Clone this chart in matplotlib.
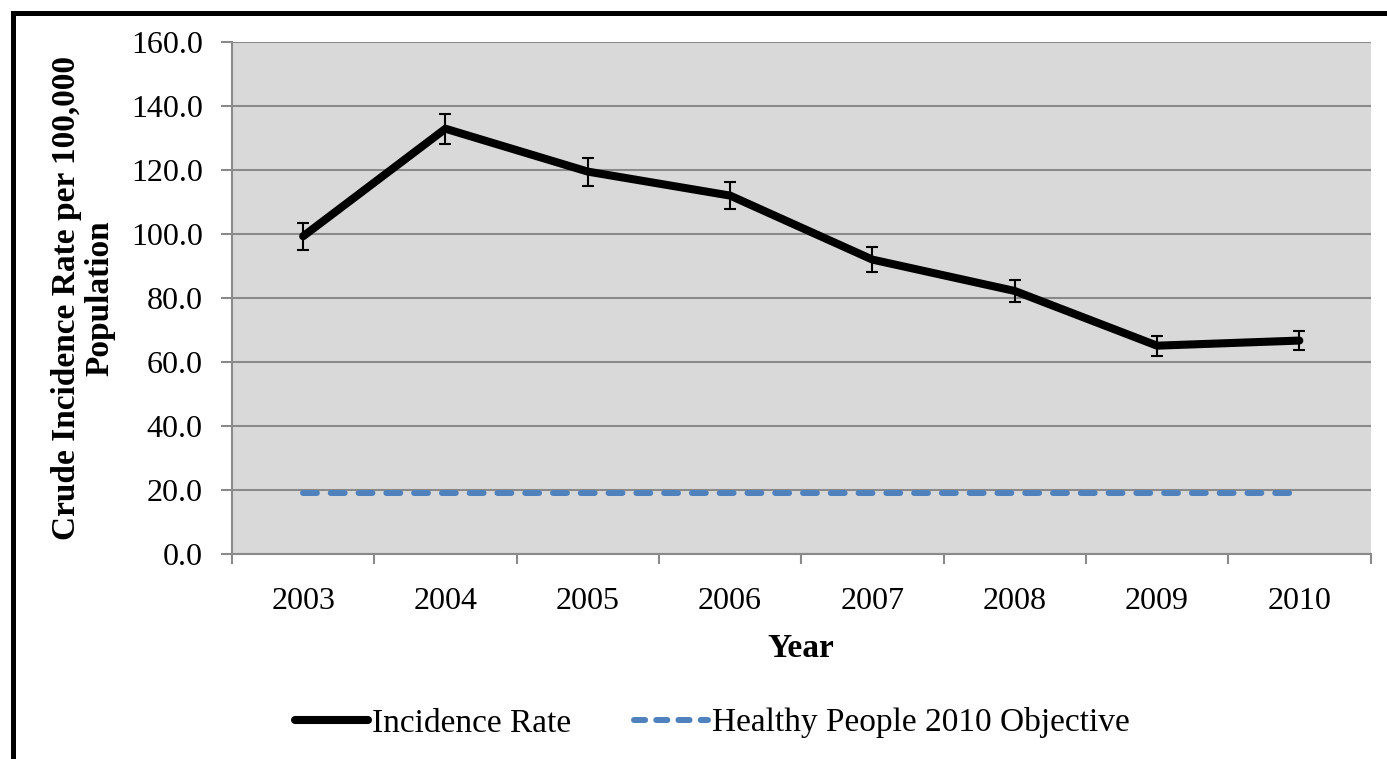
import matplotlib
matplotlib.use("Agg")
import matplotlib.pyplot as plt
from matplotlib.lines import Line2D

years = ["2003", "2004", "2005", "2006", "2007", "2008", "2009", "2010"]
incidence = [99.3, 132.9, 119.5, 112.0, 92.0, 82.2, 65.1, 66.7]
err = [4.2, 4.7, 4.4, 4.2, 3.8, 3.5, 3.1, 3.1]
objective = [19.0] * len(years)
yticks = [0, 20, 40, 60, 80, 100, 120, 140, 160]

plt.rcParams['font.family'] = ['Liberation Serif', 'DejaVu Serif']
plt.rcParams['lines.scale_dashes'] = False

W, H = 1387, 759
fig = plt.figure(figsize=(W / 100, H / 100), dpi=100)
ax = fig.add_axes([232 / W, 1 - 554 / H, 1138.5 / W, 512 / H])
ax.set_facecolor('#d9d9d9')

x = list(range(len(years)))
grid_c = '#8a8a8a'

ax.set_ylim(0, 160)
ax.set_xlim(-0.5, len(years) - 0.5)
ax.set_yticks(yticks)
ax.set_yticklabels([f"{v:.1f}" for v in yticks], fontsize=23)
ax.yaxis.grid(True, color=grid_c, linewidth=1.5)
ax.set_axisbelow(True)

ax.set_xticks([i - 0.5 for i in range(len(years) + 1)])
ax.set_xticklabels([])
ax.set_xticks(x, minor=True)
ax.set_xticklabels(years, minor=True, fontsize=23)
ax.tick_params(axis='x', which='major', direction='out', length=7, width=1.5, color=grid_c)
ax.tick_params(axis='x', which='minor', length=0, pad=24)
ax.tick_params(axis='y', direction='out', length=8, width=1.5, color=grid_c, pad=13)

for s in ['top', 'right']:
    ax.spines[s].set_visible(False)
for s in ['left', 'bottom']:
    ax.spines[s].set_color(grid_c)
    ax.spines[s].set_linewidth(1.5)

ax.plot(x, objective, color='#4f81bd', linewidth=4.3, dashes=(10, 10),
        dash_capstyle='round', zorder=3)
ax.plot(x, incidence, color='black', linewidth=5.8, solid_capstyle='round',
        solid_joinstyle='miter', zorder=4)
ax.errorbar(x, incidence, yerr=err, fmt='none', ecolor='black',
            elinewidth=1.5, capsize=4.3, capthick=1.5, zorder=5)

ax.set_xlabel("Year", fontsize=24, fontweight='bold', labelpad=12)
fig.text(83 / W, 1 - 298 / H, "Crude Incidence Rate per 100,000\nPopulation",
         rotation=90, fontsize=24, fontweight='bold', ha='center', va='center',
         multialignment='center', linespacing=1.1)

handles = [
    Line2D([], [], color='black', linewidth=5.8, solid_capstyle='round'),
    Line2D([], [], color='#4f81bd', linewidth=4.3, dashes=(8, 8), dash_capstyle='round'),
]
fig.legend(handles, ["Incidence Rate", "Healthy People 2010 Objective"],
           loc='center', bbox_to_anchor=(712 / W, 1 - 723 / H), ncol=2,
           frameon=False, fontsize=24, handlelength=2.2, handletextpad=0.12,
           columnspacing=1.9)

# outer border (top and left visible)
fig.add_artist(Line2D([12.5 / W, 12.5 / W, 1.0], [0.0, 1 - 12.5 / H, 1 - 12.5 / H],
                      transform=fig.transFigure, color='black', linewidth=3.6,
                      solid_joinstyle='miter'))

fig.savefig("out.png", dpi=100)
